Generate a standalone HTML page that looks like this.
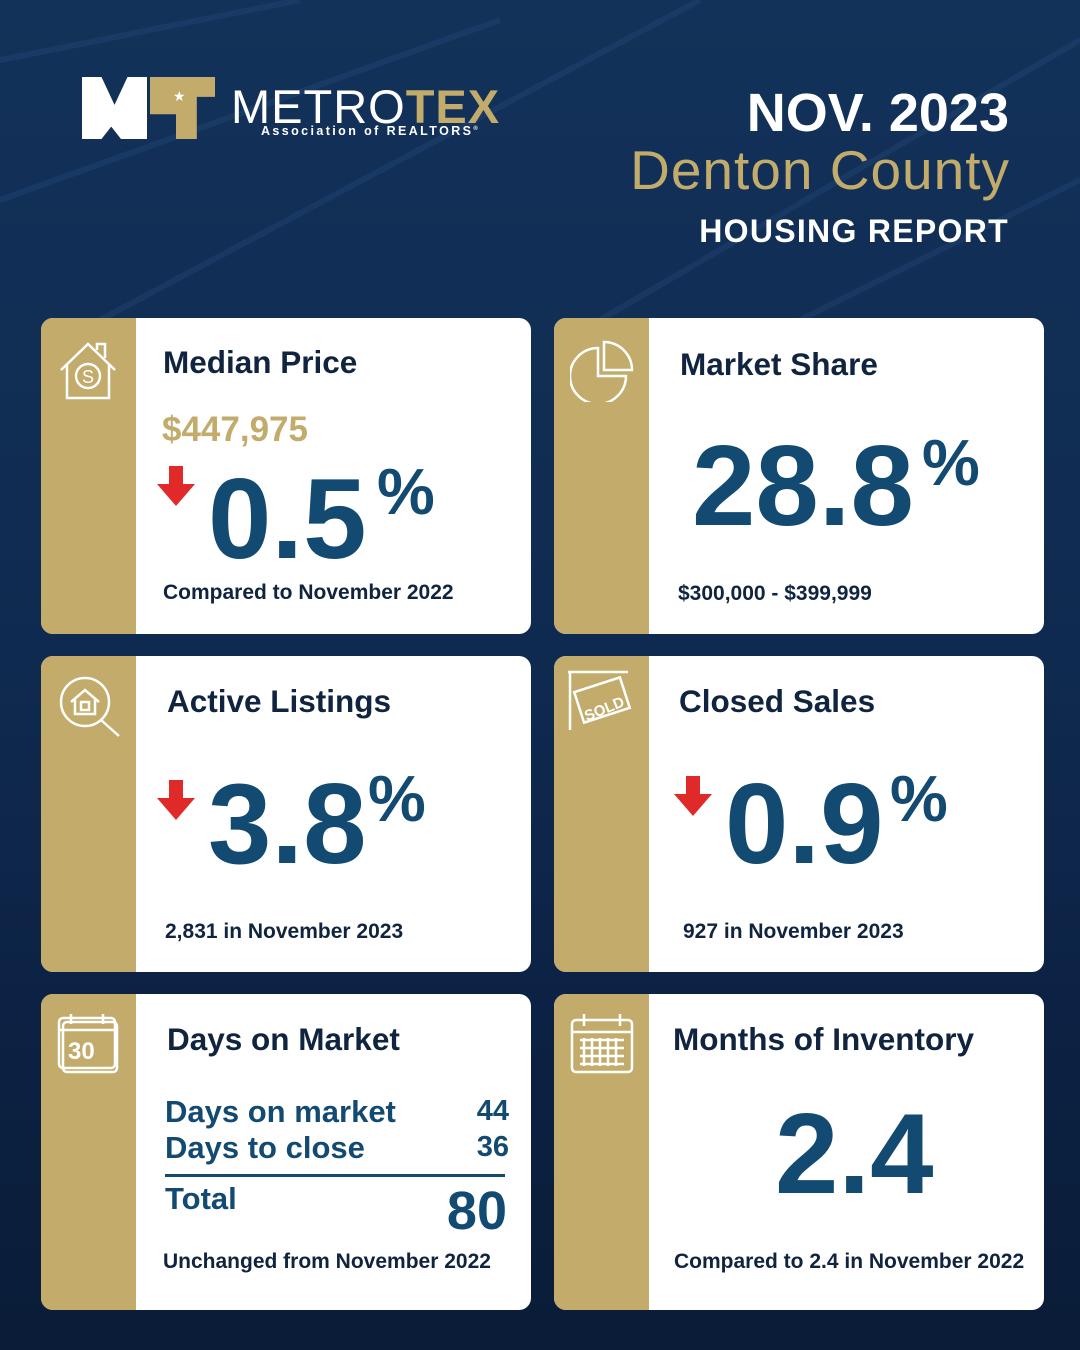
<!DOCTYPE html>
<html><head><meta charset="utf-8"><style>
*{margin:0;padding:0;box-sizing:border-box}
body{width:1080px;height:1350px;overflow:hidden;font-family:"Liberation Sans",sans-serif;position:relative;
background:linear-gradient(180deg,#123259 0%,#112e55 25%,#0f2a4f 50%,#0c2244 75%,#0a1c37 100%);}
.a{position:absolute;white-space:nowrap}
.card{position:absolute;width:490px;height:316px;background:#fff;border-radius:12px;overflow:hidden}
.card .g{position:absolute;left:0;top:0;width:95px;height:100%;background:#c2ab6b}
.t{position:absolute;font-weight:bold;font-size:31.5px;color:#10243f}
.big{position:absolute;font-weight:bold;color:#134a72;letter-spacing:0px;line-height:1;font-size:114px}
.pct{position:absolute;font-weight:bold;color:#134a72;line-height:1;font-size:65px;letter-spacing:-2px}
.s{position:absolute;font-weight:bold;font-size:21px;color:#10243f}
.arr{position:absolute;width:0;height:0}
.arr:before{content:"";position:absolute;left:12px;top:0;width:14px;height:20px;background:#e02a2a}
.arr:after{content:"";position:absolute;left:0;top:18px;border-left:19px solid transparent;border-right:19px solid transparent;border-top:22px solid #e02a2a}
.ic{position:absolute;left:16px;top:20px}
.d{position:absolute;font-size:31px;font-weight:bold;color:#134a72}
</style></head><body>
<svg class="a" style="left:0;top:0" width="1080" height="320"><g stroke="#2a5080" stroke-width="6" fill="none" opacity=".3">
<path d="M0 60 L300 0 M0 200 L500 20 M100 320 L700 0 M600 320 L1080 40 M800 320 L1080 180"/></g></svg>
<div class="a" style="left:82px;top:77px;width:65px;height:62px;background:#fff;clip-path:polygon(0 0,30% 0,50% 45%,70% 0,100% 0,100% 100%,60% 100%,45% 80%,30% 100%,0 100%)"></div>
<div class="a" style="left:150px;top:77px;width:65px;height:62px;background:#c2ab6b;clip-path:polygon(0 0,100% 0,100% 32%,72% 32%,72% 100%,40% 100%,40% 60%,0 60%)"></div>
<div class="a" style="left:173px;top:88px;color:#fff;font-size:14px">★</div>
<div class="a" style="left:231px;top:79px;font-size:47px;color:#fff;letter-spacing:1px">METRO<span style="color:#c2ab6b;font-weight:bold">TEX</span></div>
<div class="a" style="left:261px;top:124px;font-size:12.5px;color:#fff;letter-spacing:2.4px;font-weight:bold">Association of REALTORS<sup style="font-size:6px">®</sup></div>
<div class="a" style="right:71px;top:82px;font-size:54px;font-weight:bold;color:#fff">NOV. 2023</div>
<div class="a" style="right:70px;top:138px;font-size:55px;color:#c2ab6b;letter-spacing:1px">Denton County</div>
<div class="a" style="right:71px;top:213px;font-size:32px;font-weight:bold;color:#fff;letter-spacing:1.3px">HOUSING REPORT</div>

<div class="card" style="left:41px;top:318px"><div class="g"></div>
<svg class="ic" width="62" height="64" fill="none" stroke="#fff" stroke-width="2.5"><path d="M4 32 L31 6 L58 32 M10 26 V60 H52 V26 M40 12 V6 H48 V20"/><circle cx="31" cy="38" r="12"/><text x="25" y="45" font-size="18" fill="#fff" stroke="none" font-family="Liberation Sans">S</text></svg>
<div class="t" style="left:122px;top:26px">Median Price</div>
<div class="a" style="left:121px;top:92px;font-size:35px;font-weight:bold;color:#c2ab6b">$447,975</div>
<div class="arr" style="left:116px;top:148px"></div>
<div class="big" style="left:167px;top:145px">0.5</div>
<div class="pct" style="left:336px;top:141px">%</div>
<div class="s" style="left:122px;top:263px">Compared to November 2022</div></div>

<div class="card" style="left:554px;top:318px"><div class="g"></div>
<svg class="ic" width="64" height="64" fill="none" stroke="#fff" stroke-width="2.5"><path d="M28 10 A28 28 0 1 0 56 38 H28 Z"/><path d="M34 4 A28 28 0 0 1 62 32 H34 Z"/></svg>
<div class="t" style="left:126px;top:28px">Market Share</div>
<div class="big" style="left:138px;top:112px">28.8</div>
<div class="pct" style="left:368px;top:112px">%</div>
<div class="s" style="left:124px;top:264px">$300,000 - $399,999</div></div>

<div class="card" style="left:41px;top:656px"><div class="g"></div>
<svg class="ic" style="top:18px" width="68" height="64" fill="none" stroke="#fff" stroke-width="2.5"><circle cx="28" cy="28" r="24"/><path d="M44 46 L62 62 M14 28 L28 16 L42 28 M18 24 V40 H38 V24"/><rect x="24" y="28" width="8" height="8"/></svg>
<div class="t" style="left:126px;top:27px">Active Listings</div>
<div class="arr" style="left:116px;top:124px"></div>
<div class="big" style="left:167px;top:112px">3.8</div>
<div class="pct" style="left:327px;top:110px">%</div>
<div class="s" style="left:124px;top:264px">2,831 in November 2023</div></div>

<div class="card" style="left:554px;top:656px"><div class="g"></div>
<svg class="ic" style="left:12px;top:14px" width="66" height="64" fill="none" stroke="#fff" stroke-width="2.5"><path d="M2 2 H62 M4 2 V60"/><rect x="12" y="14" width="48" height="32" transform="rotate(-18 36 30)"/><text x="14" y="44" font-size="15" fill="#fff" stroke="none" font-weight="bold" transform="rotate(-22 36 30)" font-family="Liberation Sans">SOLD</text></svg>
<div class="t" style="left:125px;top:27px">Closed Sales</div>
<div class="arr" style="left:120px;top:120px"></div>
<div class="big" style="left:171px;top:112px">0.9</div>
<div class="pct" style="left:336px;top:110px">%</div>
<div class="s" style="left:129px;top:264px">927 in November 2023</div></div>

<div class="card" style="left:41px;top:994px"><div class="g"></div>
<svg class="ic" width="66" height="64" fill="none" stroke="#fff" stroke-width="2.5"><rect x="6" y="8" width="54" height="50" rx="4"/><rect x="2" y="4" width="56" height="50" rx="4"/><path d="M14 0 V10 M46 0 V10 M2 16 H58"/><text x="11" y="45" font-size="24" font-weight="bold" fill="#fff" stroke="none" font-family="Liberation Sans">30</text></svg>
<div class="t" style="left:126px;top:27px">Days on Market</div>
<div class="d" style="left:124px;top:100px">Days on market</div>
<div class="d" style="left:124px;top:136px">Days to close</div>
<div class="d" style="right:22px;top:101px;font-size:29px">44</div>
<div class="d" style="right:22px;top:137px;font-size:29px">36</div>
<div class="a" style="left:124px;top:180px;width:340px;height:3px;background:#134a72"></div>
<div class="d" style="left:124px;top:187px">Total</div>
<div class="d" style="right:24px;top:186px;font-size:54px">80</div>
<div class="s" style="left:122px;top:256px">Unchanged from November 2022</div></div>

<div class="card" style="left:554px;top:994px"><div class="g"></div>
<svg class="ic" width="66" height="64" fill="none" stroke="#fff" stroke-width="2.5"><rect x="2" y="6" width="60" height="52" rx="4"/><path d="M2 18 H62 M14 0 V12 M50 0 V12 M10 26 H54 M10 34 H54 M10 42 H54 M10 50 H54 M14 24 V52 M22 24 V52 M30 24 V52 M38 24 V52 M46 24 V52"/></svg>
<div class="t" style="left:119px;top:27px">Months of Inventory</div>
<div class="big" style="left:221px;top:104px">2.4</div>
<div class="s" style="left:120px;top:256px">Compared to 2.4 in November 2022</div></div>
</body></html>
